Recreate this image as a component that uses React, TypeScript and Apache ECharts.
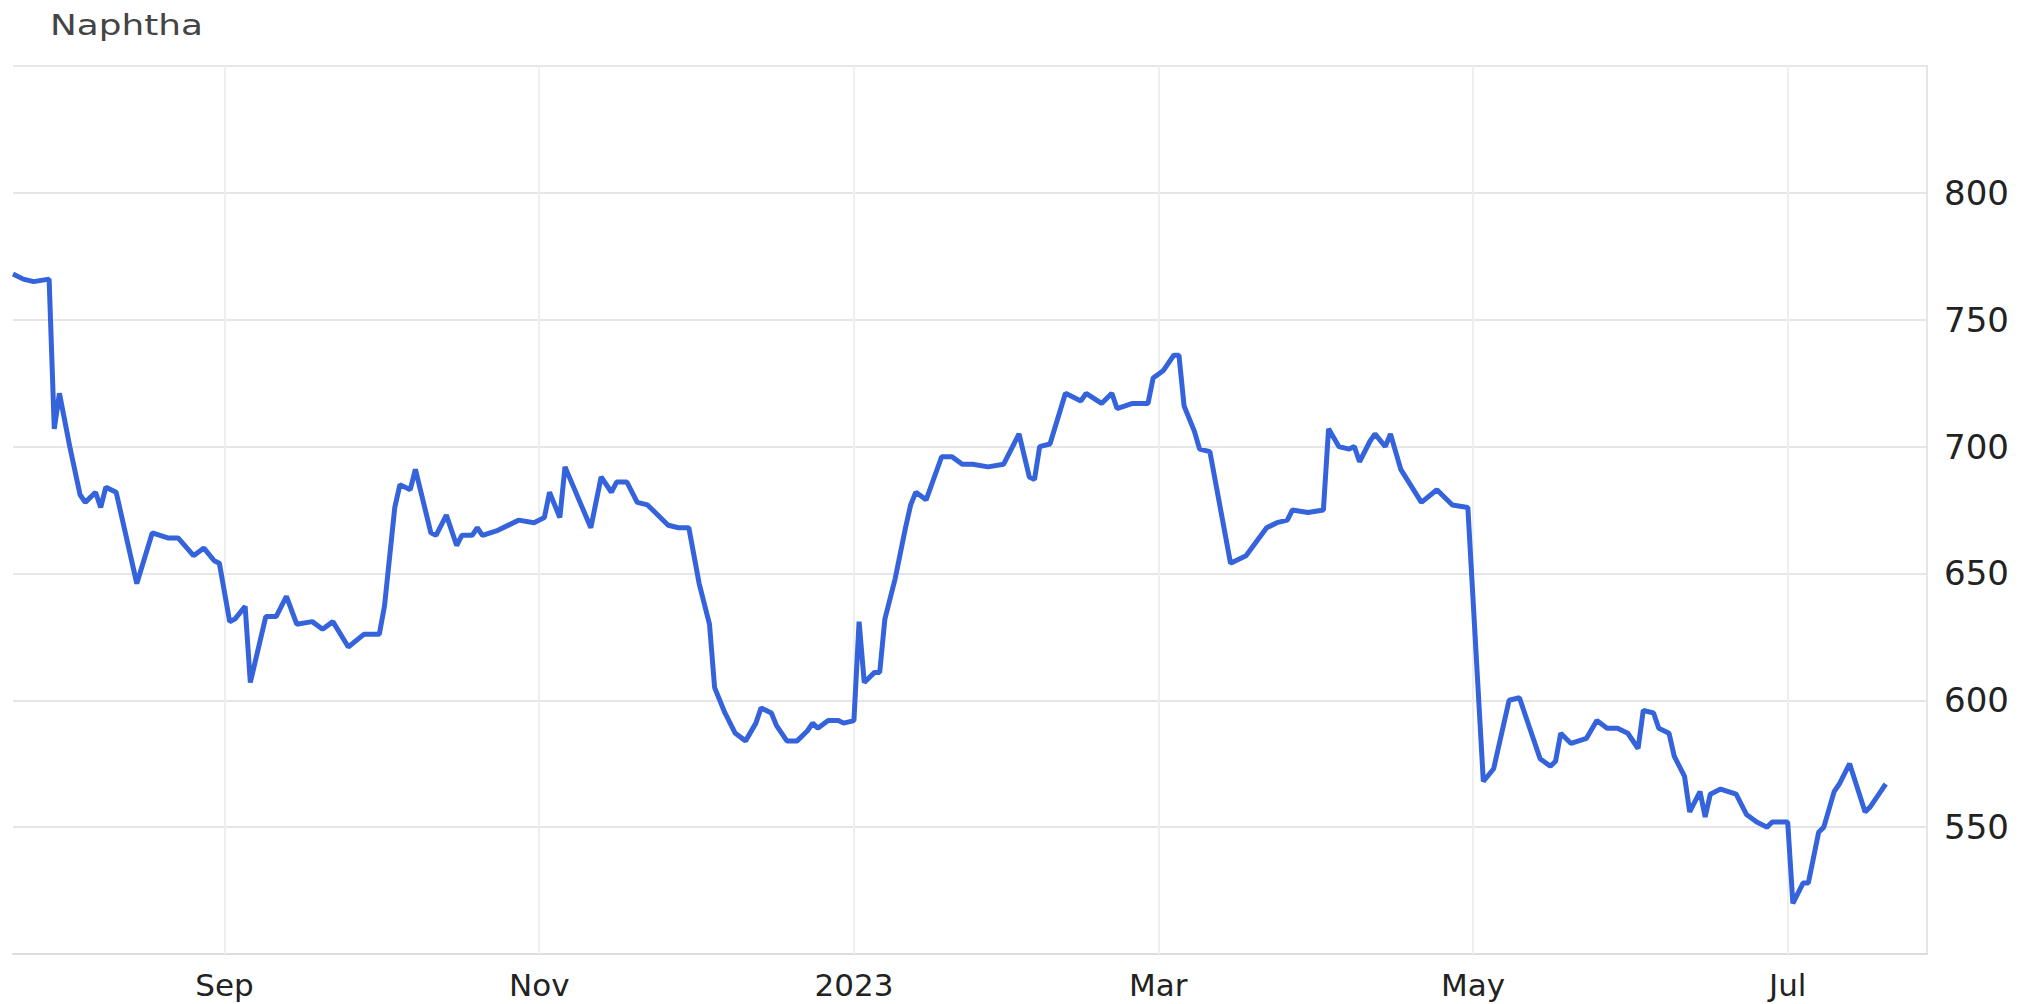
import React, { useEffect, useRef } from 'react';
import * as echarts from 'echarts';

const chartTitle = 'Naphtha';

const dates = [
  '2022-07-22', '2022-07-24', '2022-07-26', '2022-07-29', '2022-07-30', '2022-07-31',
  '2022-08-02', '2022-08-04', '2022-08-05', '2022-08-07', '2022-08-08', '2022-08-09',
  '2022-08-11', '2022-08-15', '2022-08-18', '2022-08-21', '2022-08-23', '2022-08-26',
  '2022-08-28', '2022-08-30', '2022-08-31', '2022-09-02', '2022-09-03', '2022-09-05',
  '2022-09-06', '2022-09-09', '2022-09-11', '2022-09-13', '2022-09-15', '2022-09-18',
  '2022-09-20', '2022-09-22', '2022-09-25', '2022-09-28', '2022-10-01', '2022-10-02',
  '2022-10-04', '2022-10-05', '2022-10-07', '2022-10-08', '2022-10-11', '2022-10-12',
  '2022-10-14', '2022-10-16', '2022-10-17', '2022-10-19', '2022-10-20', '2022-10-21',
  '2022-10-24', '2022-10-28', '2022-10-31', '2022-11-02', '2022-11-03', '2022-11-05',
  '2022-11-06', '2022-11-11', '2022-11-13', '2022-11-15', '2022-11-16', '2022-11-18',
  '2022-11-20', '2022-11-22', '2022-11-23', '2022-11-26', '2022-11-28', '2022-11-30',
  '2022-12-02', '2022-12-04', '2022-12-05', '2022-12-07', '2022-12-09', '2022-12-11',
  '2022-12-13', '2022-12-14', '2022-12-16', '2022-12-17', '2022-12-19', '2022-12-21',
  '2022-12-23', '2022-12-24', '2022-12-25', '2022-12-27', '2022-12-29', '2022-12-30',
  '2023-01-01', '2023-01-02', '2023-01-03', '2023-01-05', '2023-01-06', '2023-01-07',
  '2023-01-09', '2023-01-11', '2023-01-12', '2023-01-13', '2023-01-15', '2023-01-18',
  '2023-01-20', '2023-01-22', '2023-01-24', '2023-01-27', '2023-01-30', '2023-02-02',
  '2023-02-04', '2023-02-05', '2023-02-06', '2023-02-08', '2023-02-11', '2023-02-14',
  '2023-02-15', '2023-02-18', '2023-02-20', '2023-02-21', '2023-02-24', '2023-02-27',
  '2023-02-28', '2023-03-02', '2023-03-04', '2023-03-05', '2023-03-06', '2023-03-08',
  '2023-03-09', '2023-03-11', '2023-03-15', '2023-03-18', '2023-03-22', '2023-03-24',
  '2023-03-26', '2023-03-27', '2023-03-30', '2023-04-02', '2023-04-03', '2023-04-05',
  '2023-04-07', '2023-04-08', '2023-04-09', '2023-04-11', '2023-04-12', '2023-04-14',
  '2023-04-15', '2023-04-17', '2023-04-21', '2023-04-24', '2023-04-27', '2023-04-30',
  '2023-05-03', '2023-05-05', '2023-05-08', '2023-05-10', '2023-05-12', '2023-05-14',
  '2023-05-16', '2023-05-17', '2023-05-18', '2023-05-20', '2023-05-23', '2023-05-25',
  '2023-05-27', '2023-05-29', '2023-05-31', '2023-06-02', '2023-06-03', '2023-06-05',
  '2023-06-06', '2023-06-08', '2023-06-09', '2023-06-11', '2023-06-12', '2023-06-14',
  '2023-06-15', '2023-06-16', '2023-06-18', '2023-06-21', '2023-06-23', '2023-06-25',
  '2023-06-27', '2023-06-28', '2023-07-01', '2023-07-02', '2023-07-04', '2023-07-05',
  '2023-07-07', '2023-07-08', '2023-07-10', '2023-07-11', '2023-07-13', '2023-07-16',
  '2023-07-17', '2023-07-19', '2023-07-20',
];

const prices = [
  768, 766, 765, 766, 707, 721,
  700, 681, 678, 682, 676, 684,
  682, 646, 666, 664, 664, 657,
  660, 655, 654, 631, 632, 637,
  607, 633, 633, 641, 630, 631,
  628, 631, 621, 626, 626, 637,
  676, 685, 683, 691, 666, 665,
  673, 661, 665, 665, 668, 665,
  667, 671, 670, 672, 682, 672,
  692, 668, 688, 682, 686, 686,
  678, 677, 675, 669, 668, 668,
  646, 630, 605, 595, 587, 584,
  591, 597, 595, 590, 584, 584,
  588, 591, 589, 592, 592, 591,
  592, 631, 607, 611, 611, 632,
  648, 668, 677, 682, 679, 696,
  696, 693, 693, 692, 693, 705,
  688, 687, 700, 701, 721, 718,
  721, 717, 721, 715, 717, 717,
  727, 730, 736, 736, 716, 706,
  699, 698, 654, 657, 668, 670,
  671, 675, 674, 675, 707, 700,
  699, 700, 694, 702, 705, 700,
  705, 691, 678, 683, 677, 676,
  568, 573, 600, 601, 589, 577,
  574, 576, 587, 583, 585, 592,
  589, 589, 587, 581, 596, 595,
  589, 587, 578, 570, 556, 564,
  554, 563, 565, 563, 555, 552,
  550, 552, 552, 520, 528, 528,
  548, 550, 564, 567, 575, 556,
  558, 564, 567,
];

const yTickLabels = [550, 600, 650, 700, 750, 800];
const monthLabels = ['2023', 'Feb', 'Mar', 'Apr', 'May', 'Jun', 'Jul', 'Aug', 'Sep', 'Oct', 'Nov', 'Dec'];
const monthGridDates = ['2022-09-01', '2022-11-01', '2023-01-01', '2023-03-01', '2023-05-01', '2023-07-01'];
const xStart = '2022-07-22';
const xEnd = '2023-07-28';
const yMin = 500;
const yMax = 850;

const DAY = 24 * 3600 * 1000;
const FONT = 'DejaVu Sans';
const VGRID = '#efefef';

export default function App() {
  const ref = useRef<HTMLDivElement>(null);

  useEffect(() => {
    const chart = echarts.init(ref.current as HTMLDivElement, null, { renderer: 'svg' });
    const data = dates.map((d, i) => [d, prices[i]]);
    chart.setOption({
      animation: false,
      backgroundColor: '#ffffff',
      textStyle: { fontFamily: FONT },
      grid: { left: 13, right: 107, top: 66, bottom: 50 },
      graphic: [
        {
          type: 'text',
          x: 50,
          y: 11,
          scaleX: 1.28,
          style: {
            text: chartTitle,
            fontSize: 28,
            fontFamily: FONT,
            fill: '#444444',
            verticalAlign: 'top',
          },
        },
      ],
      xAxis: {
        type: 'time',
        min: xStart,
        max: xEnd,
        minInterval: 70 * DAY,
        maxInterval: 70 * DAY,
        axisLine: { show: true, lineStyle: { color: '#dcdcdc', width: 2 } },
        axisTick: { show: false },
        splitLine: { show: false },
        axisLabel: {
          fontSize: 31,
          fontFamily: FONT,
          color: '#222222',
          margin: 15,
          hideOverlap: false,
          formatter: (val: number) => {
            const d = new Date(val);
            if (d.getDate() !== 1) return '';
            const m = d.getMonth();
            return m === 0 ? String(d.getFullYear()) : monthLabels[m];
          },
        },
      },
      yAxis: {
        type: 'value',
        position: 'right',
        min: yMin,
        max: yMax,
        interval: 50,
        axisLine: { show: true, lineStyle: { color: '#e6e6e6', width: 2 } },
        axisTick: { show: false },
        splitLine: { show: true, lineStyle: { color: '#e6e6e6', width: 2 } },
        axisLabel: {
          fontSize: 34,
          fontFamily: FONT,
          color: '#222222',
          margin: 17,
          formatter: (v: number) => (yTickLabels.indexOf(v) >= 0 ? String(v) : ''),
        },
      },
      series: [
        {
          type: 'line',
          name: 'grid',
          data: [],
          z: 1,
          silent: true,
          markLine: {
            silent: true,
            z: 1,
            symbol: ['none', 'none'],
            label: { show: false },
            emphasis: { disabled: true },
            lineStyle: { color: VGRID, width: 2, type: 'solid' },
            data: monthGridDates.map((d) => ({ xAxis: d })),
          },
        },
        {
          type: 'line',
          name: chartTitle,
          data,
          z: 3,
          symbol: 'none',
          showSymbol: false,
          smooth: false,
          lineStyle: { color: '#3463dc', width: 5 },
          itemStyle: { color: '#3463dc' },
        },
      ],
    });
    return () => chart.dispose();
  }, []);

  return (
    <div
      ref={ref}
      style={{ position: 'fixed', left: 0, top: 0, width: 2034, height: 1004, background: '#ffffff' }}
    />
  );
}
